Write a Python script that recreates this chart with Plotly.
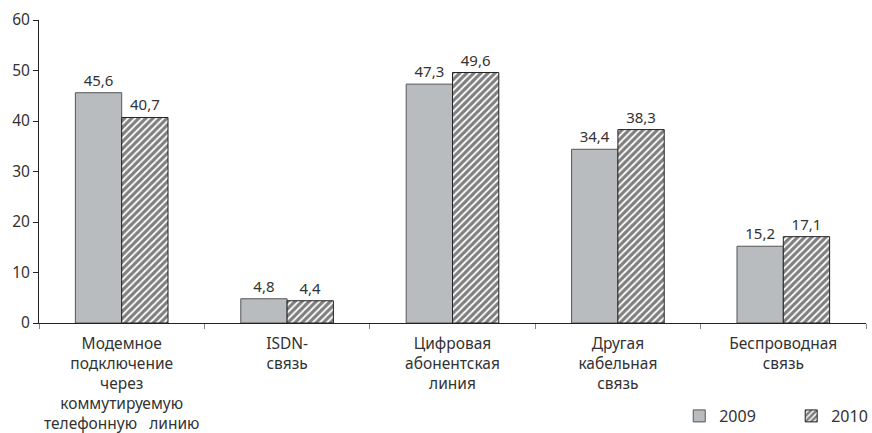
import plotly.graph_objects as go

categories = [
    "Модемное<br>подключение<br>через<br>коммутируемую<br>телефонную   линию",
    "ISDN-<br>связь",
    "Цифровая<br>абонентская<br>линия",
    "Другая<br>кабельная<br>связь",
    "Беспроводная<br>связь",
]
values_2009 = [45.6, 4.8, 47.3, 34.4, 15.2]
values_2010 = [40.7, 4.4, 49.6, 38.3, 17.1]
y_ticks = [0, 10, 20, 30, 40, 50, 60]

FONT = "Noto Sans"
TXT = "#333333"

fig = go.Figure()
fig.add_trace(go.Bar(
    x=categories, y=values_2009, name="2009",
    marker=dict(color="#b8bcbe", line=dict(color="#555555", width=1)),
    text=[f"{v:.1f}".replace(".", ",") for v in values_2009],
    textposition="outside", cliponaxis=False,
    textfont=dict(size=15, color=TXT, family=FONT),
))
fig.add_trace(go.Bar(
    x=categories, y=values_2010, name="2010",
    marker=dict(color="white", line=dict(color="#222222", width=1),
                pattern=dict(shape="/", fgcolor="#000000", bgcolor="white",
                             size=5, solidity=0.65)),
    text=[f"{v:.1f}".replace(".", ",") for v in values_2010],
    textposition="outside", cliponaxis=False,
    textfont=dict(size=15, color=TXT, family=FONT),
))

fig.update_layout(
    width=872, height=433,
    margin=dict(l=39, r=6, t=20, b=110, autoexpand=False),
    plot_bgcolor="white", paper_bgcolor="white",
    barmode="group", bargap=0.44, bargroupgap=0,
    font=dict(family=FONT, size=15, color=TXT),
    showlegend=True,
    legend=dict(orientation="h", xref="paper", yref="container",
                x=1.045, xanchor="right", y=0.0, yanchor="bottom",
                font=dict(size=16, color=TXT), itemwidth=30,
                entrywidth=67, traceorder="normal",
                bgcolor="rgba(0,0,0,0)"),
    xaxis=dict(showline=True, linecolor="#222222", linewidth=1,
               ticks="outside", tickson="boundaries", ticklen=5,
               tickcolor="#888888", tickangle=0, automargin=False,
               ticklabelstandoff=6,
               tickfont=dict(size=15.5, color=TXT)),
    yaxis=dict(range=[0, 60], tickvals=y_ticks, showline=True,
               linecolor="#222222", linewidth=1, ticks="outside", ticklen=5,
               tickcolor="#222222", showgrid=False, zeroline=False,
               automargin=False,
               tickfont=dict(size=15.5, color=TXT)),
)

fig.write_html("out.html", config={"displayModeBar": False},
               post_script="document.body.style.margin='0';")
